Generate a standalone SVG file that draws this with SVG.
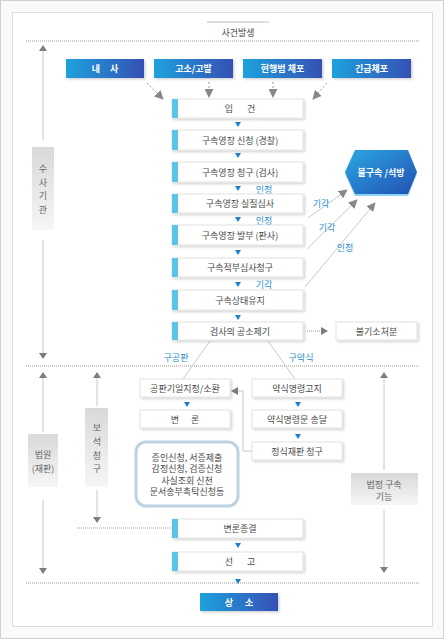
<svg xmlns="http://www.w3.org/2000/svg" width="444" height="639" viewBox="0 0 444 639">
<defs>
<style>
text{font-family:"Noto Sans CJK KR","Noto Sans",sans-serif;font-size:9px;fill:#4a4a4a;text-anchor:middle;dominant-baseline:central}
.w{fill:#fff;font-weight:bold}
.lb{fill:#2a90d0}
.g{fill:#666}
.box{fill:#fff;stroke:#e3e3e3;stroke-width:1;filter:url(#sh)}
.bar{fill:#5cc4e6}
.tri{fill:#1c7fc9}
.gt{fill:#7d7d7d}
.ln{stroke:#c8c8c8;stroke-width:1;fill:none}
.dot{stroke:#9a9a9a;stroke-width:1;stroke-dasharray:1,1;fill:none}
.dar{stroke:#999;stroke-width:1;stroke-dasharray:2,2;fill:none}
.side{fill:url(#gg)}
</style>
<linearGradient id="bg" x1="0" y1="0" x2="1" y2="0">
<stop offset="0" stop-color="#1ea2dd"/><stop offset="1" stop-color="#3550b4"/>
</linearGradient>
<linearGradient id="hg" x1="0" y1="0" x2="1" y2="1">
<stop offset="0" stop-color="#2aa8e2"/><stop offset="1" stop-color="#2350b3"/>
</linearGradient>
<linearGradient id="gg" x1="0" y1="0" x2="0" y2="1">
<stop offset="0" stop-color="#d9d9d9"/><stop offset="1" stop-color="#f6f6f6"/>
</linearGradient>
<filter id="sh" x="-10%" y="-20%" width="120%" height="150%">
<feDropShadow dx="1.5" dy="1.5" stdDeviation="0.8" flood-color="#000" flood-opacity="0.18"/>
</filter>
<marker id="ah" viewBox="0 0 10 10" refX="9" refY="5" markerWidth="9" markerHeight="9" markerUnits="userSpaceOnUse" orient="auto">
<path d="M0,0 L10,5 L0,10 Z" fill="#888"/>
</marker>
</defs>

<rect x="0.5" y="0.5" width="443" height="638" fill="#fafafa" stroke="#d0d0d0"/>
<rect x="12.5" y="12.5" width="420" height="614" fill="#fff" stroke="#dcdcdc"/>

<g id="title">
<line x1="207" y1="22" x2="269" y2="22" stroke="#bbb"/>
<text x="238" y="32">사건발생</text>
</g>

<g id="separators">
<line class="dot" x1="26" y1="41" x2="419" y2="41"/>
<line class="dot" x1="26" y1="366" x2="419" y2="366"/>
<line class="dot" x1="26" y1="583" x2="419" y2="583"/>
<line class="dot" x1="77" y1="528" x2="170" y2="528"/>
</g>

<g id="connectors">
<!-- top dotted arrows -->
<line class="dar" x1="147" y1="83" x2="163" y2="99" marker-end="url(#ah)"/>
<line class="dar" x1="209" y1="82" x2="209" y2="97" marker-end="url(#ah)"/>
<line class="dar" x1="273" y1="82" x2="273" y2="97" marker-end="url(#ah)"/>
<line class="dar" x1="327" y1="83" x2="313" y2="99" marker-end="url(#ah)"/>
<!-- hexagon arrows -->
<line class="ln" x1="308" y1="218" x2="347" y2="190" marker-end="url(#ah)"/>
<line class="ln" x1="307" y1="249" x2="357" y2="200" marker-end="url(#ah)"/>
<line class="ln" x1="305" y1="287" x2="375" y2="203" marker-end="url(#ah)"/>
<!-- indictment split -->
<line class="ln" x1="210" y1="341" x2="183" y2="379"/>
<line class="ln" x1="268" y1="341" x2="295" y2="379"/>
<!-- non-indictment -->
<line class="dot" x1="307" y1="331" x2="321" y2="331"/>
<path class="gt" d="M321,327 L328,331 L321,335 Z"/>
<!-- formal trial back -->
<polyline class="ln" points="252,451 243,451 243,391 238,391"/>
<path class="gt" d="M231,391 L238,387 L238,395 Z"/>
<!-- side timeline arrows -->
<path class="ln" d="M43,51 V140 M43,240 V353"/>
<path class="gt" d="M43,45 L47,51 L39,51 Z"/>
<path class="gt" d="M39,353 L47,353 L43,359 Z"/>
<path class="ln" d="M43,378 V432 M43,500 V568"/>
<path class="gt" d="M43,372 L47,378 L39,378 Z"/>
<path class="gt" d="M39,568 L47,568 L43,574 Z"/>
<path class="ln" d="M97,378 V406 M97,490 V517"/>
<path class="gt" d="M97,372 L101,378 L93,378 Z"/>
<path class="gt" d="M93,517 L101,517 L97,523 Z"/>
<path class="ln" d="M384,378 V470 M384,510 V567"/>
<path class="gt" d="M384,372 L388,378 L380,378 Z"/>
<path class="gt" d="M380,567 L388,567 L384,573 Z"/>
<!-- blue step triangles -->
<path class="tri" d="M235,122 L241,122 L238,127 Z"/>
<path class="tri" d="M235,153 L241,153 L238,158 Z"/>
<path class="tri" d="M235,186 L241,186 L238,191 Z"/>
<path class="tri" d="M235,217 L241,217 L238,222 Z"/>
<path class="tri" d="M235,250 L241,250 L238,255 Z"/>
<path class="tri" d="M235,282 L241,282 L238,287 Z"/>
<path class="tri" d="M235,315 L241,315 L238,320 Z"/>
<path class="tri" d="M184,402 L190,402 L187,407 Z"/>
<path class="tri" d="M295,402 L301,402 L298,407 Z"/>
<path class="tri" d="M295,434 L301,434 L298,439 Z"/>
<path class="tri" d="M235,543 L241,543 L238,548 Z"/>
<path class="tri" d="M235,579 L241,579 L238,584 Z"/>
<!-- connector labels -->
<text class="lb" x="264" y="189">인정</text>
<text class="lb" x="264" y="220">인정</text>
<text class="lb" x="264" y="284">기각</text>
<text class="lb" x="321" y="203">기각</text>
<text class="lb" x="327" y="227">기각</text>
<text class="lb" x="345" y="247">인정</text>
<text class="lb" x="176" y="357">구공판</text>
<text class="lb" x="301" y="357">구약식</text>
</g>

<g id="n-naesa"><rect x="66" y="59" width="78" height="19" fill="url(#bg)" filter="url(#sh)"/><text class="w" x="105" y="68.5" word-spacing="8">내 사</text></g>
<g id="n-goso"><rect x="154" y="59" width="79" height="19" fill="url(#bg)" filter="url(#sh)"/><text class="w" x="193.5" y="68.5">고소/고발</text></g>
<g id="n-hyeon"><rect x="243" y="59" width="79" height="19" fill="url(#bg)" filter="url(#sh)"/><text class="w" x="282.5" y="68.5">현행범 체포</text></g>
<g id="n-gingeup"><rect x="332" y="59" width="79" height="19" fill="url(#bg)" filter="url(#sh)"/><text class="w" x="371.5" y="68.5">긴급체포</text></g>

<g id="n-ipgeon"><rect class="box" x="172" y="99" width="131" height="19"/><rect class="bar" x="172" y="99" width="6" height="19"/><text x="240" y="108.5" word-spacing="12">입 건</text></g>
<g id="n-sincheong"><rect class="box" x="172" y="130" width="131" height="20"/><rect class="bar" x="172" y="130" width="6" height="20"/><text x="240" y="140">구속영장 신청 (경찰)</text></g>
<g id="n-cheonggu"><rect class="box" x="172" y="162" width="131" height="20"/><rect class="bar" x="172" y="162" width="6" height="20"/><text x="240" y="172">구속영장 청구 (검사)</text></g>
<g id="n-simsa"><rect class="box" x="172" y="194" width="131" height="19"/><rect class="bar" x="172" y="194" width="6" height="19"/><text x="240" y="203.5">구속영장 실질심사</text></g>
<g id="n-balbu"><rect class="box" x="172" y="225" width="131" height="20"/><rect class="bar" x="172" y="225" width="6" height="20"/><text x="240" y="235">구속영장 발부 (판사)</text></g>
<g id="n-jeokbu"><rect class="box" x="172" y="258" width="131" height="19"/><rect class="bar" x="172" y="258" width="6" height="19"/><text x="240" y="267.5">구속적부심사청구</text></g>
<g id="n-yuji"><rect class="box" x="172" y="290" width="131" height="20"/><rect class="bar" x="172" y="290" width="6" height="20"/><text x="240" y="300">구속상태유지</text></g>
<g id="n-gongso"><rect class="box" x="172" y="322" width="131" height="18"/><rect class="bar" x="172" y="322" width="6" height="18"/><text x="240" y="331">검사의 공소제기</text></g>
<g id="n-bulgiso"><rect class="box" x="336" y="322" width="81" height="18"/><text x="376.5" y="331">불기소처분</text></g>

<g id="n-seokbang">
<path d="M345,174 L355,152 L408,152 L417,174 L408,196 L355,196 Z" fill="#8fd3f2"/>
<path d="M345,172 L355,150 L408,150 L417,172 L408,194 L355,194 Z" fill="url(#hg)"/>
<text class="w" x="381" y="172">불구속 /석방</text>
</g>

<g id="n-susa"><rect class="side" x="32" y="147" width="22" height="83"/>
<text class="g" x="43" y="168">수</text><text class="g" x="43" y="182">사</text><text class="g" x="43" y="195">기</text><text class="g" x="43" y="209">관</text></g>

<g id="n-beobwon"><rect class="side" x="28" y="434" width="30" height="53"/>
<text class="g" x="43" y="454">법원</text><text class="g" x="43" y="468">(재판)</text></g>

<g id="n-boseok"><rect class="side" x="85" y="408" width="23" height="79"/>
<text class="g" x="97" y="427">보</text><text class="g" x="97" y="441">석</text><text class="g" x="97" y="455">청</text><text class="g" x="97" y="468">구</text></g>

<g id="n-beopjeong"><rect class="side" x="351" y="473" width="67" height="32"/>
<text class="g" x="384" y="484">법정 구속</text><text class="g" x="384" y="496">기능</text></g>

<g id="n-gongpan"><rect class="box" x="140" y="379" width="90" height="18"/><text x="185" y="388">공판기일지정/소환</text></g>
<g id="n-byeonron"><rect class="box" x="140" y="410" width="90" height="18"/><text x="185" y="419" word-spacing="10">변 론</text></g>
<g id="n-jeungeo">
<rect x="136" y="442" width="102" height="64" rx="10" fill="#fff" stroke="#bcd4df" stroke-width="3"/>
<text x="187" y="457">증인신청, 서증제출</text>
<text x="187" y="468.5">감정신청, 검증신청</text>
<text x="187" y="480">사실조회 신천</text>
<text x="187" y="491.5">문서송부촉탁신청등</text>
</g>

<g id="n-yaksik"><rect class="box" x="252" y="379" width="90" height="18"/><text x="297" y="388">약식명령고지</text></g>
<g id="n-songdal"><rect class="box" x="252" y="410" width="90" height="18"/><text x="297" y="419">약식명령문 송달</text></g>
<g id="n-jeongsik"><rect class="box" x="252" y="442" width="90" height="18"/><text x="297" y="451">정식재판 청구</text></g>

<g id="n-jonggyeol"><rect class="box" x="172" y="519" width="131" height="19"/><rect class="bar" x="172" y="519" width="6" height="19"/><text x="240" y="528.5">변론종결</text></g>
<g id="n-seongo"><rect class="box" x="172" y="552" width="131" height="19"/><rect class="bar" x="172" y="552" width="6" height="19"/><text x="240" y="561.5" word-spacing="12">선 고</text></g>

<g id="n-sangso"><rect x="200" y="593" width="78" height="18" fill="url(#bg)" filter="url(#sh)"/><text class="w" x="239" y="602" word-spacing="10">상 소</text></g>
</svg>
